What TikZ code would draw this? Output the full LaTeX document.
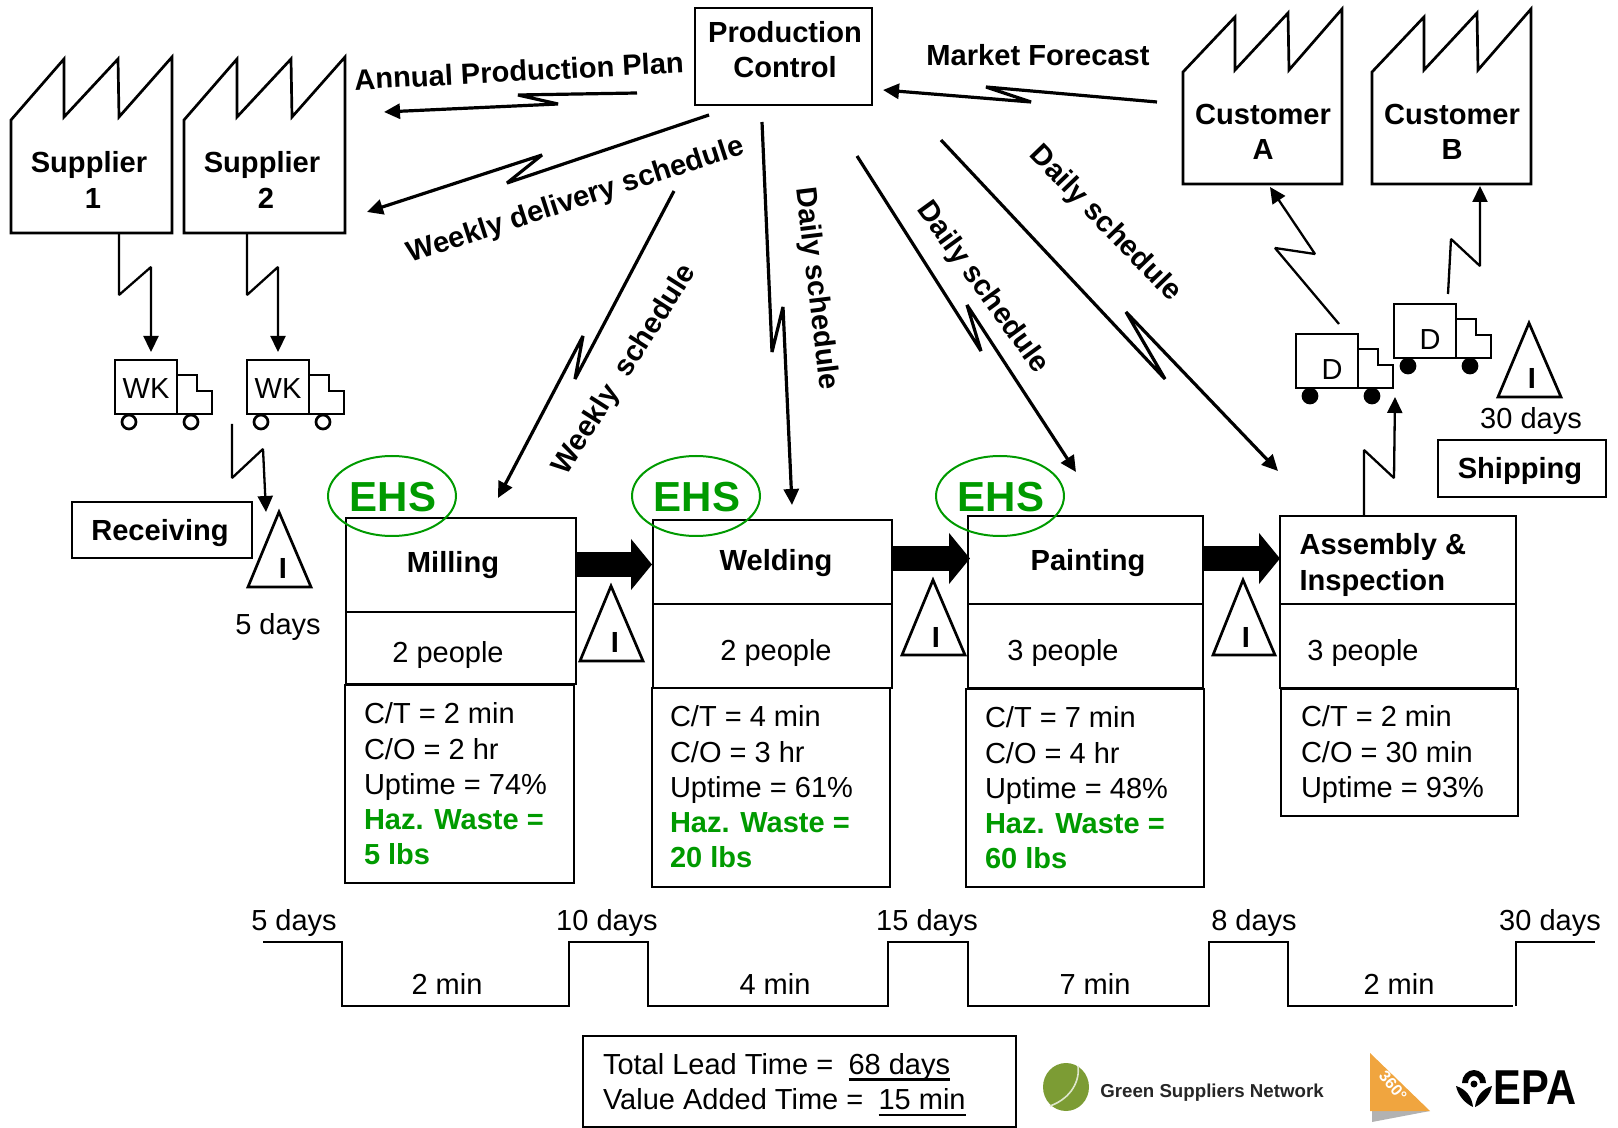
\documentclass[tikz,border=0pt]{standalone}
\usepackage{fontspec}
\setmainfont{Liberation Sans}
\usetikzlibrary{arrows.meta}
\definecolor{hz}{HTML}{009A00}
\definecolor{logogreen}{HTML}{7C9C34}
\definecolor{logoorange}{HTML}{F0A53F}
\tikzset{
  boxst/.style={draw,line width=1.35pt,inner sep=0pt,outer sep=0pt},
  txt/.style={inner sep=0pt,outer sep=0pt,align=left,font=\fontsize{14.5}{17.6}\selectfont},
  ctr/.style={txt,align=center},
  bld/.style={inner sep=0pt,outer sep=0pt,align=center,font=\fontsize{14.55}{17.6}\selectfont\bfseries},
  shape line/.style={line width=1.35pt,line join=miter},
  bolt/.style={line width=1.6pt,line join=bevel,-{Triangle[length=8pt,width=7.5pt]}},
  thinbolt/.style={line width=1.15pt,line join=bevel,-{Triangle[length=8pt,width=7.5pt]}},
  blockarrow/.style={line width=12.5pt,-{Triangle[length=10.5pt,width=25pt]}},
  ehstext/.style={inner sep=0pt,text=hz,font=\fontsize{21}{21}\selectfont\bfseries},
}
\newsavebox\ulb
\newcommand\myul[1]{\sbox\ulb{#1}\leavevmode\usebox\ulb\hspace{-\wd\ulb}\raisebox{-3.2pt}{\rule{\wd\ulb}{1.1pt}}}
\newcommand\boxn[5]{%
  \pgfmathsetmacro\bw{(#4-#2)*0.5}\pgfmathsetmacro\bh{(#5-#3)*0.5}%
  \node[boxst,minimum width=\bw pt,minimum height=\bh pt] (#1) at ({(#2+#4)/2},{(#3+#5)/2}) {};}
\newcommand\invt[8]{% name apexx apexy leftx rightx basey Ix Iy
  \draw[shape line] (#2,#3) -- (#4,#6) -- (#5,#6) -- cycle;
  \node[bld] (#1) at (#7,#8) {I};}
\newcommand\truck[6]{% name x y label wheelstyle labelpos
  \begin{scope}[shift={(#2,#3)}]
    \draw[shape line] (0,0) rectangle (62,54);
    \draw[shape line] (62,15) -- (82,15) -- (82,31) -- (97,31) -- (97,54) -- (62,54);
    \draw[line width=1.35pt,#5] (14,62) circle (7);
    \draw[line width=1.35pt,#5] (76,62) circle (7);
    \node[ctr] (#1) at (#6) {#4};
  \end{scope}}
\begin{document}
\begin{tikzpicture}[x=0.5pt,y=-0.5pt]
\useasboundingbox (0,0) rectangle (1618,1128);
% factories
\draw[shape line] (11,233) -- (11,120) -- (64,59) -- (64,117) -- (118,59) -- (119,117) -- (172,57) -- (172,233) -- cycle;
\draw[shape line] (184,233) -- (184,120) -- (237,59) -- (237,117) -- (291,59) -- (292,117) -- (345,57) -- (345,233) -- cycle;
\draw[shape line] (1183,184) -- (1183,72) -- (1235,17) -- (1235,70) -- (1288,13) -- (1289,70) -- (1342,9) -- (1342,184) -- cycle;
\draw[shape line] (1372,184) -- (1372,72) -- (1424,17) -- (1424,70) -- (1477,13) -- (1478,70) -- (1531,9) -- (1531,184) -- cycle;
\node[bld] (sup1) at (89,180) {Supplier\\\hspace*{4pt}1};
\node[bld] (sup2) at (262,180) {Supplier\\\hspace*{4pt}2};
\node[bld] (custA) at (1263,132) {Customer\\A};
\node[bld] (custB) at (1452,132) {Customer\\B};
% control
\boxn{pc}{695}{8}{872}{105}
\node[bld] (pcT) at (785,50) {Production\\Control};
% other boxes
\boxn{recv}{72}{502}{252}{558}
\node[bld] (recvT) at (160,533) {Receiving};
\boxn{ship}{1438}{440}{1606}{497}
\node[bld] (shipT) at (1520,471) {Shipping};
% process boxes
\boxn{millA}{346}{518}{576}{612}
\boxn{millB}{346}{612}{576}{684}
\boxn{millC}{345}{685}{574}{883}
\boxn{weldA}{653}{520}{892}{604}
\boxn{weldB}{653}{604}{892}{688}
\boxn{weldC}{652}{688}{890}{887}
\boxn{paintA}{968}{516}{1203}{604}
\boxn{paintB}{968}{604}{1203}{688}
\boxn{paintC}{966}{689}{1204}{887}
\boxn{assyA}{1280}{516}{1516}{604}
\boxn{assyB}{1280}{604}{1516}{688}
\boxn{assyC}{1281}{689}{1518}{816}
\node[bld] (millT) at (453,565) {Milling};
\node[bld] (weldT) at (776,563) {Welding};
\node[bld] (paintT) at (1088,563) {Painting};
\node[bld,align=left,anchor=west] (assyT) at (1299.5,565) {Assembly \&\\Inspection};
\node[ctr] (millP) at (448,655) {2 people};
\node[ctr] (weldP) at (776,653.5) {2 people};
\node[ctr] (paintP) at (1063,653.5) {3 people};
\node[ctr] (assyP) at (1363,653.5) {3 people};
\node[txt,anchor=west] (millD) at (364,784) {C/T = 2 min\\C/O = 2 hr\\Uptime = 74\%\\{\color{hz}\bfseries Haz. Waste =}\\{\color{hz}\bfseries 5 lbs}};
\node[txt,anchor=west] (weldD) at (670,787) {C/T = 4 min\\C/O = 3 hr\\Uptime = 61\%\\{\color{hz}\bfseries Haz. Waste =}\\{\color{hz}\bfseries 20 lbs}};
\node[txt,anchor=west] (paintD) at (985,788) {C/T = 7 min\\C/O = 4 hr\\Uptime = 48\%\\{\color{hz}\bfseries Haz. Waste =}\\{\color{hz}\bfseries 60 lbs}};
\node[txt,anchor=west] (assyD) at (1301,754.5) {C/T = 2 min\\C/O = 30 min\\Uptime = 93\%};
% EHS
\node[ehstext] (ehs1) at (393,497) {EHS};
\node[ehstext] (ehs2) at (697,497) {EHS};
\node[ehstext] (ehs3) at (1001,497) {EHS};
\draw[hz,line width=1pt] (392,496) ellipse (64 and 40);
\draw[hz,line width=1pt] (696,496) ellipse (64 and 40);
\draw[hz,line width=1pt] (1000,496) ellipse (64 and 40);
% block arrows
\coordinate (ba1) at (576,564.5); \coordinate (ba2) at (652,564.5);
\coordinate (bb1) at (892,558.5); \coordinate (bb2) at (970,558.5);
\coordinate (bc1) at (1203,558.5); \coordinate (bc2) at (1280,558.5);
\draw[blockarrow] (ba1) -- (ba2);
\draw[blockarrow] (bb1) -- (bb2);
\draw[blockarrow] (bc1) -- (bc2);
% inventory triangles
\invt{invR}{279}{512}{248}{311}{587}{283}{568}
\invt{invM}{611}{586}{580}{643}{661}{615}{642}
\invt{invW}{933}{580}{902}{965}{655}{936}{637}
\invt{invP}{1243}{580}{1213}{1275}{655}{1246}{637}
\invt{invS}{1529}{323}{1498}{1561}{397}{1532}{378}
\node[ctr] (d5) at (278,627) {5 days};
\node[ctr] (d30) at (1531,421) {30 days};
% trucks
\truck{wk1}{115}{360}{WK}{fill=white}{31,29}
\truck{wk2}{247}{360}{WK}{fill=white}{31,29}
\truck{dA}{1296}{334}{D}{fill=black}{36,36}
\truck{dB}{1394}{304}{D}{fill=black}{36,36}
% information connectors
\coordinate (annS) at (637,93); \coordinate (annE) at (384,112);
\draw[bolt] (annS) -- (518,95) -- (558,104) -- (annE);
\coordinate (mktS) at (1157,102); \coordinate (mktE) at (883,90);
\draw[bolt] (mktS) -- (986,87) -- (1031,102) -- (mktE);
\coordinate (wdS) at (709,115); \coordinate (wdE) at (367,212);
\draw[bolt] (wdS) -- (507,183) -- (542,155) -- (wdE);
\coordinate (wsS) at (674,191); \coordinate (wsE) at (498,498);
\draw[bolt] (wsS) -- (575,379) -- (583,336) -- (wsE);
\coordinate (d1S) at (762,122); \coordinate (d1E) at (792,505);
\draw[bolt] (d1S) -- (772,352) -- (783,307) -- (d1E);
\coordinate (d2S) at (857,156); \coordinate (d2E) at (1076,472);
\draw[bolt] (d2S) -- (981,351) -- (967,305) -- (d2E);
\coordinate (d3S) at (941,140); \coordinate (d3E) at (1278,471);
\draw[bolt] (d3S) -- (1165,379) -- (1126,312) -- (d3E);
\coordinate (caS) at (1339,324); \coordinate (caE) at (1270,187);
\draw[thinbolt] (caS) -- (1275,248) -- (1315,254) -- (caE);
\coordinate (cbS) at (1448,294); \coordinate (cbE) at (1480,186);
\draw[thinbolt] (cbS) -- (1451,239) -- (1480,266) -- (cbE);
\coordinate (asS) at (1364,515); \coordinate (asE) at (1395,397);
\draw[thinbolt] (asS) -- (1364,450) -- (1394,478) -- (asE);
\coordinate (s1S) at (119,233); \coordinate (s1E) at (151,352);
\draw[thinbolt] (s1S) -- (119,295) -- (151,267) -- (s1E);
\coordinate (s2S) at (247,233); \coordinate (s2E) at (278,352);
\draw[thinbolt] (s2S) -- (247,295) -- (278,267) -- (s2E);
\coordinate (rcS) at (232,424); \coordinate (rcE) at (266,512);
\draw[thinbolt] (rcS) -- (232,478) -- (263,449) -- (rcE);
% connector labels
\node[bld,rotate=3] (lAnn) at (519,71) {Annual Production Plan};
\node[bld] (lMkt) at (1038,55) {Market Forecast};
\node[bld,rotate=18] (lWd) at (576,201) {Weekly delivery schedule};
\node[bld,rotate=57.5] (lWs) at (625,370) {Weekly\ \ schedule};
\node[bld,rotate=-83] (lD1) at (816,289) {Daily schedule};
\node[bld,rotate=-54] (lD2) at (982,288) {Daily schedule};
\node[bld,rotate=-46] (lD3) at (1105,224) {Daily schedule};
% timeline
\draw[line width=1.35pt] (263,942) -- (342,942) -- (342,1006) -- (569,1006) -- (569,942) -- (648,942) -- (648,1006) -- (888,1006) -- (888,942) -- (968,942) -- (968,1006) -- (1209,1006) -- (1209,942) -- (1288,942) -- (1288,1006) -- (1513,1006);
\draw[line width=1.35pt] (1516,1006) -- (1516,942) -- (1595,942);
\node[ctr] (t1) at (294,923) {5 days};
\node[ctr] (t2) at (607,923) {10 days};
\node[ctr] (t3) at (927,923) {15 days};
\node[ctr] (t4) at (1254,923) {8 days};
\node[ctr] (t5) at (1550,923) {30 days};
\node[ctr] (m1) at (447,984) {2 min};
\node[ctr] (m2) at (775,984) {4 min};
\node[ctr] (m3) at (1095,984) {7 min};
\node[ctr] (m4) at (1399,984) {2 min};
% totals
\boxn{tot}{583}{1036}{1016}{1127}
\node[txt,anchor=west] (totT) at (603,1084.5) {Total Lead Time = \hspace{3.6pt}\myul{68 days}\\Value Added Time = \hspace{3.6pt}\myul{15 min}};
% logos
\fill[logogreen] (1066,1087) ellipse (23 and 24);
\draw[white!75!logogreen,line width=0.8pt] (1050,1106) .. controls (1072,1098) and (1080,1080) .. (1078,1066);
\node[inner sep=0pt,text=black!85,font=\fontsize{9.35}{9.35}\selectfont\bfseries] (gsn) at (1212,1093) {Green Suppliers Network};
\fill[black!30] (1372,1111) -- (1430,1111) -- (1372,1122) -- cycle;
\fill[logoorange] (1370,1053) -- (1430,1111) -- (1370,1111) -- cycle;
\node[inner sep=0pt,text=white,rotate=-50,font=\fontsize{8}{8}\selectfont\bfseries] (l360) at (1393,1086) {360°};
\node[inner sep=0pt,xscale=0.85,font=\fontsize{24.5}{24.5}\selectfont\bfseries] (epa) at (1535,1088) {EPA};
\fill[black] (1462,1083) arc (180:360:12 and 13) -- (1480,1083) arc (360:180:6 and 7) -- cycle;
\fill[black] (1474,1084) circle (3.5);
\fill[black] (1456,1086) .. controls (1458,1096) and (1466,1104) .. (1473,1107) .. controls (1472,1097) and (1466,1089) .. (1456,1086) -- cycle;
\fill[black] (1492,1086) .. controls (1490,1096) and (1482,1104) .. (1475,1107) .. controls (1476,1097) and (1482,1089) .. (1492,1086) -- cycle;
\end{tikzpicture}
\end{document}
